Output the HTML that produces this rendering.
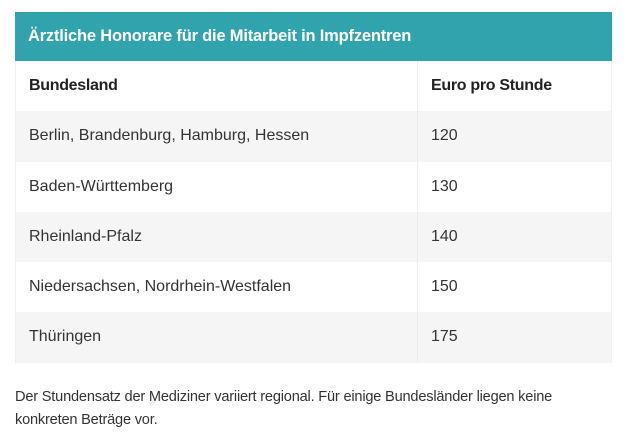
<!DOCTYPE html>
<html><head><meta charset="utf-8"><style>
body{margin:0;width:640px;height:439px;background:#fff;font-family:"Liberation Sans",sans-serif;overflow:hidden;position:relative}
.t{position:absolute;left:15px;top:12px;width:597px}
.h{background:#30a3ad;color:#fff;font-weight:bold;font-size:16.5px;height:49px;line-height:49px;padding-left:13px;box-sizing:border-box;letter-spacing:-0.2px}
.r{height:50.3px;display:flex;font-size:16px;color:#333;border-left:1px solid #f0f0f0;border-right:1px solid #f0f0f0;box-sizing:border-box}
.r div{line-height:50px;padding-left:13px;box-sizing:border-box}
.r .a{width:402px;border-right:1px solid #ececec}
.g{background:#f5f5f5}
.b{font-weight:bold;color:#222;letter-spacing:-0.3px}
.f{position:absolute;left:15px;top:386px;font-size:14.6px;color:#333;line-height:23px;width:620px;letter-spacing:-0.2px}
</style></head><body>
<div class="t">
<div class="h">Ärztliche Honorare für die Mitarbeit in Impfzentren</div>
<div class="r b"><div class="a">Bundesland</div><div>Euro pro Stunde</div></div>
<div class="r g"><div class="a">Berlin, Brandenburg, Hamburg, Hessen</div><div>120</div></div>
<div class="r"><div class="a">Baden-Württemberg</div><div>130</div></div>
<div class="r g"><div class="a">Rheinland-Pfalz</div><div>140</div></div>
<div class="r"><div class="a">Niedersachsen, Nordrhein-Westfalen</div><div>150</div></div>
<div class="r g"><div class="a">Thüringen</div><div>175</div></div>
</div>
<div class="f">Der Stundensatz der Mediziner variiert regional. Für einige Bundesländer liegen keine<br>konkreten Beträge vor.</div>
</body></html>
